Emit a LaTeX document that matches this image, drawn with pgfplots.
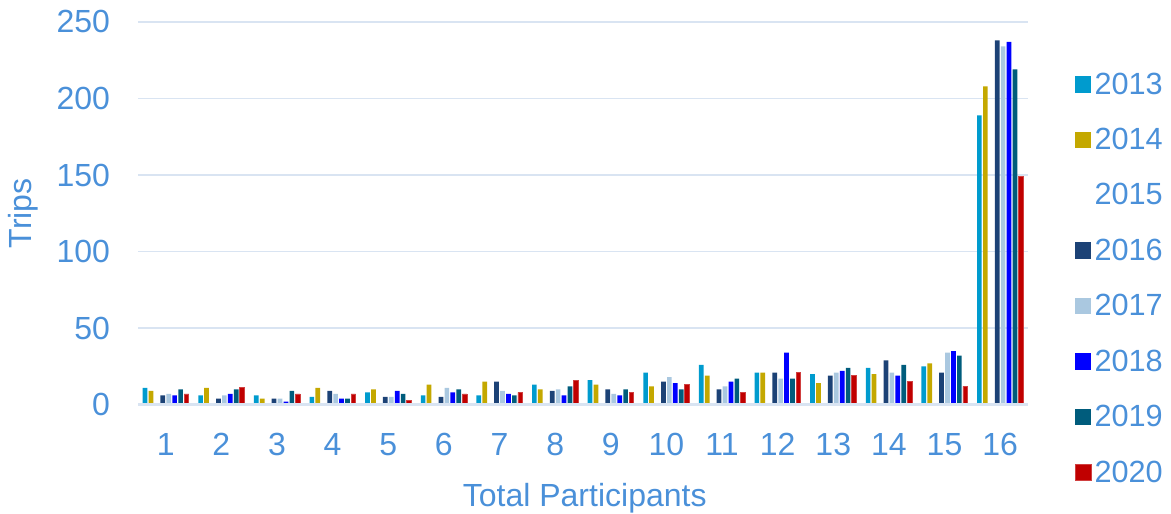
\documentclass[border=0pt]{standalone}
\usepackage{pgfplots}
\usepackage{pgfplotstable}
\pgfplotsset{compat=1.18}
\usepackage{fontspec}
\setmainfont{Liberation Sans}
\definecolor{txt}{RGB}{74,144,217}
\definecolor{c13}{RGB}{0,155,206}
\definecolor{c14}{RGB}{196,168,0}
\definecolor{c16}{RGB}{28,66,118}
\definecolor{c17}{RGB}{170,200,224}
\definecolor{c18}{RGB}{0,0,255}
\definecolor{c19}{RGB}{0,92,124}
\definecolor{c20}{RGB}{192,0,0}
\definecolor{gridc}{RGB}{217,228,242}
\pgfplotstableread{
x y13 y14 y15 y16 y17 y18 y19 y20
1 11 9 0 6 7 6 10 7
2 6 11 0 4 6 7 10 11
3 6 4 0 4 4 2 9 7
4 5 11 0 9 7 4 4 7
5 8 10 0 5 5 9 7 3
6 6 13 0 5 11 8 10 7
7 6 15 0 15 9 7 6 8
8 13 10 0 9 10 6 12 16
9 16 13 0 10 7 6 10 8
10 21 12 0 15 18 14 10 13
11 26 19 0 10 12 15 17 8
12 21 21 0 21 17 34 17 21
13 20 14 0 19 21 22 24 19
14 24 20 0 29 21 19 26 15
15 25 27 0 21 34 35 32 12
16 189 208 0 238 234 237 219 149
}\datatable
\begin{document}
\begin{tikzpicture}
\begin{axis}[
  scale only axis,
  width=667.5pt, height=287pt,
  ybar=0.95pt, bar width=3.5pt,
  xmin=0.5, xmax=16.5, ymin=0, ymax=250,
  xtick={1,...,16},
  ytick={0,50,...,250},
  /pgf/number format/assume math mode=true,
  tick style={draw=none},
  axis line style={draw=none},
  ymajorgrids, grid style={gridc, line width=1.1pt},
  ticklabel style={font=\fontsize{24}{28}\selectfont, text=txt},
  xticklabel style={yshift=-13.5pt},
  yticklabel style={xshift=-17.5pt},
  xlabel={Total Participants}, ylabel={Trips},
  label style={font=\fontsize{24}{28}\selectfont, text=txt},
  xlabel style={at={(axis description cs:0.502,-0.245)}, anchor=center},
  ylabel style={at={(axis description cs:-0.129,0.5)}, anchor=center},
  legend style={draw=none, fill=none, at={(axis description cs:1.052,0.33)}, anchor=west,
    font=\fontsize{23}{27}\selectfont, text=txt, row sep=20pt, inner sep=0pt},
  legend cell align=left,
  legend image code/.code={\fill[#1] (0pt,-6.2pt) rectangle (12.4pt,6.2pt);},
  clip=false,
]
\addplot[fill=c13, draw=none] table[x=x,y=y13]{\datatable};
\addplot[fill=c14, draw=none] table[x=x,y=y14]{\datatable};
\addplot[fill=white, draw=none] table[x=x,y=y15]{\datatable};
\addplot[fill=c16, draw=none] table[x=x,y=y16]{\datatable};
\addplot[fill=c17, draw=none] table[x=x,y=y17]{\datatable};
\addplot[fill=c18, draw=none] table[x=x,y=y18]{\datatable};
\addplot[fill=c19, draw=none] table[x=x,y=y19]{\datatable};
\addplot[fill=c20, draw=c20!75, line width=0.6pt] table[x=x,y=y20]{\datatable};
\legend{2013,2014,2015,2016,2017,2018,2019,2020}
\draw[gridc, line width=2pt] (rel axis cs:0,0) -- (rel axis cs:1,0);
\coordinate (bl) at (rel axis cs:-0.155,-0.2846);
\coordinate (tr) at (rel axis cs:1.1607,1.0574);
\end{axis}
\pgfresetboundingbox
\path[use as bounding box] (bl) rectangle (tr);
\end{tikzpicture}
\end{document}
